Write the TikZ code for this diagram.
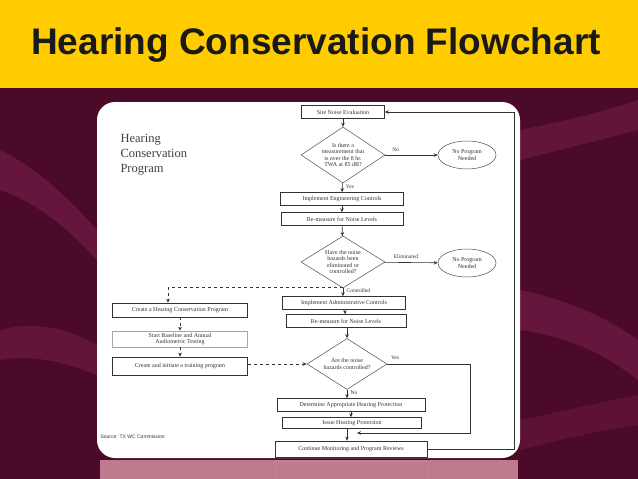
\documentclass[tikz,border=0pt]{standalone}
\usepackage{fontspec}
\setmainfont{Liberation Serif}
\setsansfont{Liberation Sans}
\usetikzlibrary{shapes.geometric,arrows.meta}
\definecolor{bgm}{HTML}{4A0A28}
\definecolor{bgl}{HTML}{7A1E4A}
\definecolor{gold}{HTML}{FFCC00}
\begin{document}
\begin{tikzpicture}[x=1pt,y=-1pt,
  every node/.style={font=\fontsize{6}{6.6}\selectfont,text=black!80},
  fbox/.style={draw=black!80,line width=0.6pt,inner sep=0pt,minimum height=#1},
  fbox/.default=13pt,
  dec/.style={diamond,draw=black!70,line width=0.5pt,inner sep=0pt,align=center,aspect=1.6},
  oval/.style={ellipse,draw=black!70,line width=0.5pt,minimum width=58pt,minimum height=28pt,align=center,inner sep=0pt},
  arr/.style={-{Stealth[length=4pt,width=3.5pt]},black!80,line width=0.6pt},
  darr/.style={arr,dashed},
  lbl/.style={font=\fontsize{5.5}{6}\selectfont}]
\useasboundingbox (0,0) rectangle (638,479);
\fill[bgm] (0,0) rectangle (638,479);
\fill[bgl,opacity=0.6] (0,150) .. controls (40,170) and (70,200) .. (97,230) -- (97,260) .. controls (60,220) and (30,200) .. (0,190) -- cycle;
\fill[bgl,opacity=0.5] (0,330) .. controls (40,320) and (70,330) .. (97,345) -- (97,375) .. controls (60,360) and (30,355) .. (0,360) -- cycle;
\fill[bgl,opacity=0.5] (520,130) .. controls (570,120) and (610,110) .. (638,100) -- (638,130) .. controls (600,140) and (560,150) .. (520,160) -- cycle;
\fill[bgl,opacity=0.6] (520,290) .. controls (570,300) and (610,320) .. (638,340) -- (638,380) .. controls (600,350) and (560,335) .. (520,330) -- cycle;
\fill[bgl,opacity=0.4] (520,420) .. controls (570,410) and (610,400) .. (638,395) -- (638,425) .. controls (600,430) and (560,440) .. (520,450) -- cycle;
\fill[gold] (0,0) rectangle (638,88);
\node[font=\sffamily\bfseries\fontsize{37}{40}\selectfont,text=black!90] (title) at (316,45) {Hearing Conservation Flowchart};
\fill[white,rounded corners=18pt] (97,102) rectangle (520,458);
\fill[pink!60!purple!60,opacity=0.7] (100,460) rectangle (518,479);
\draw[black!40,line width=0.5pt] (275,461) rectangle (427,479);
% title
\node[font=\fontsize{12.5}{15}\selectfont,text=black!75,align=left,anchor=north west] (prog) at (117,131) {Hearing\\Conservation\\Program};
\node[font=\sffamily\fontsize{5}{6}\selectfont,anchor=west] (src) at (97,437) {Source: TX WC Commission};
% main column
\node[fbox,minimum width=83pt] (site) at (343,112) {Site Noise Evaluation};
\node[dec,minimum width=84pt,minimum height=56pt] (d1) at (343,155) {Is there a\\measurement that\\is over the 8 hr.\\TWA at 85 dB?};
\node[oval] (o1) at (467,155) {No Program\\Needed};
\node[fbox,minimum width=123pt] (eng) at (342,199) {Implement Engineering Controls};
\node[fbox,minimum width=122pt] (rm1) at (342,219) {Re-measure for Noise Levels};
\node[dec,minimum width=84pt,minimum height=52pt] (d2) at (343,262) {Have the noise\\hazards been\\eliminated or\\controlled?};
\node[oval] (o2) at (467,263) {No Program\\Needed};
\node[fbox,minimum width=123pt] (adm) at (344,303) {Implement Administrative Controls};
\node[fbox,minimum width=120pt] (rm2) at (346,321) {Re-measure for Noise Levels};
\node[dec,minimum width=80pt,minimum height=51pt] (d3) at (347,364) {Are the noise\\hazards controlled?};
\node[fbox,minimum width=148pt] (det) at (351,405) {Determine Appropriate Hearing Protection};
\node[fbox,minimum width=139pt,minimum height=11pt] (iss) at (352,423) {Issue Hearing Protection};
\node[fbox,minimum width=152pt,minimum height=16pt] (cont) at (351,449) {Continue Monitoring and Program Reviews};
% left column
\node[fbox,minimum width=135pt,minimum height=14pt] (chcp) at (180,310) {Create a Hearing Conservation Program};
\node[fbox,draw=black!35,minimum width=135pt,minimum height=16pt,align=center] (base) at (180,339) {Start Baseline and Annual\\Audiometric Testing};
\node[fbox,minimum width=135pt,minimum height=18pt] (train) at (180,366) {Create and initiate a training program};
% connectors
\draw[arr] (site) -- (d1);
\draw[arr] (d1) -- node[lbl,above,pos=0.2] {No} (o1);
\draw[arr] (d1) -- node[lbl,right,pos=0.4] {Yes} (eng);
\draw[arr] (eng) -- (rm1);
\draw[arr] (rm1) -- (d2);
\draw[arr] (d2) -- node[lbl,above,pos=0.4] {Eliminated} (o2);
\draw[arr] (d2.south) -- node[lbl,right,pos=0.3] {Controlled} (d2.south |- adm.north);
\coordinate (dl) at (168,287);
\coordinate (dr) at (343,287);
\draw[dashed,black!80,line width=0.6pt] (dr) -- (dl);
\draw[darr] (dl) -- (dl |- chcp.north);
\draw[arr] (adm) -- (rm2);
\draw[arr] (rm2.south -| d3.north) -- (d3);
\draw[darr] (chcp) -- (base);
\draw[darr] (base) -- (train);
\draw[darr] (train.east |- d3.west) -- (d3.west);
\draw[arr] (d3.south) -- node[lbl,right,pos=0.3] {No} (d3.south |- det.north);
\node[lbl] (yes3) at (395,358) {Yes};
\coordinate (r3) at (470,364);
\coordinate (j3) at (357,433);
\draw[arr] (d3.east) -- (r3) -- (r3 |- j3) -- (j3);
\draw[arr] (det) -- (det |- iss.north);
\coordinate (ib) at (347,429);
\draw[arr] (ib) -- (ib |- cont.north);
\coordinate (rr) at (514,449);
\draw[arr] (cont.east) -- (rr) -- (rr |- site.east) -- (site.east);
\end{tikzpicture}
\end{document}
